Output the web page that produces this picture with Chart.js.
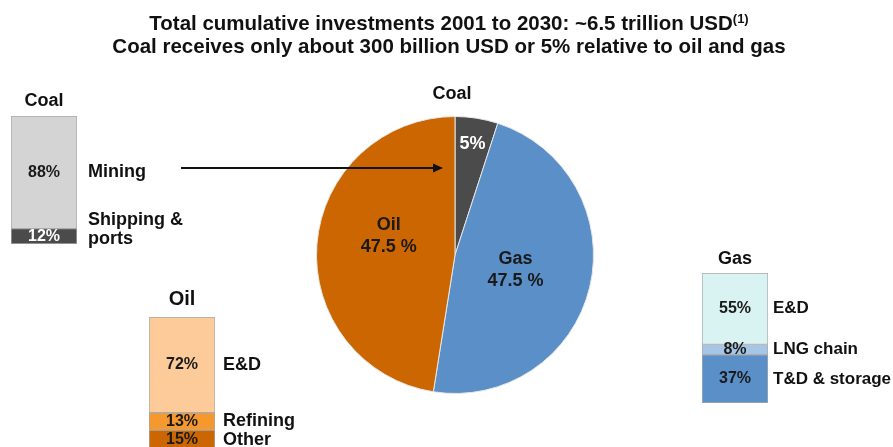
<!DOCTYPE html>
<html lang="en">
<head>
<meta charset="UTF-8">
<title>Cumulative energy investments 2001-2030</title>
<script src="https://cdn.jsdelivr.net/npm/chart.js"></script>
<style>
    body { margin: 0; background: #fff; font-family: 'Liberation Sans', Arial, sans-serif; }
    #page { position: relative; width: 893px; height: 447px; overflow: hidden; }
    #page canvas { position: absolute; }
    .title { position: absolute; left: 0; width: 898px; text-align: center; font-weight: bold; font-size: 20.5px; line-height: 20px; color: #111; white-space: nowrap; }
    .title sup { font-size: 13px; line-height: 0; vertical-align: 7px; }
</style>
</head>
<body>
<div id="page">
    <canvas id="pieChart" style="left:0;top:0;width:893px;height:447px"></canvas>
    <canvas id="coalBar" style="left:11px;top:86px;width:190px;height:172px"></canvas>
    <canvas id="oilBar" style="left:149px;top:284px;width:170px;height:166px"></canvas>
    <canvas id="gasBar" style="left:702px;top:243px;width:191px;height:160px"></canvas>
    <div class="title" style="top:13px">Total cumulative investments 2001 to 2030: ~6.5 trillion USD<sup>(1)</sup></div>
    <div class="title" style="top:36px">Coal receives only about 300 billion USD or 5% relative to oil and gas</div>
</div>

<script>
    // Share of total investment by fuel (%)
    const fuels = ['Coal', 'Gas', 'Oil'];
    const fuelShares = [5, 47.5, 47.5];
    const fuelColors = ['#4b4b4b', '#5a8fc8', '#cc6600'];

    // Breakdown inside each fuel (%), listed bottom to top
    const coalParts = ['Shipping &\nports', 'Mining'];
    const coalShares = [12, 88];
    const coalColors = ['#4b4b4b', '#d4d4d4'];

    const oilParts = ['Other', 'Refining', 'E&D'];
    const oilShares = [15, 13, 72];
    const oilColors = ['#cc6600', '#f5982e', '#fccb99'];

    const gasParts = ['T&D & storage', 'LNG chain', 'E&D'];
    const gasShares = [37, 8, 55];
    const gasColors = ['#5a8fc8', '#a6c6e8', '#d9f3f2'];

    const FONT = "'Liberation Sans', Arial, sans-serif";

    // --- pie ---------------------------------------------------------------
    const pieLabelPlugin = {
        id: 'pieLabels',
        afterDatasetsDraw(chart) {
            const ctx = chart.ctx;
            const arcs = chart.getDatasetMeta(0).data;
            const radial = [0.81, 0.45, 0.48];
            const shiftY = [0, 0, -14];
            ctx.save();
            ctx.textAlign = 'center';
            ctx.textBaseline = 'middle';
            ctx.font = 'bold 18px ' + FONT;
            arcs.forEach((arc, i) => {
                const mid = (arc.startAngle + arc.endAngle) / 2;
                const r = arc.outerRadius * radial[i];
                const x = arc.x + Math.cos(mid) * r;
                const y = arc.y + Math.sin(mid) * r + shiftY[i];
                if (i === 0) {
                    ctx.fillStyle = '#fff';
                    ctx.fillText(fuelShares[i] + '%', x, y);
                    ctx.fillStyle = '#111';
                    ctx.fillText(fuels[i], arc.x - 3, arc.y - arc.outerRadius - 22);
                } else {
                    ctx.fillStyle = '#1a1a1a';
                    ctx.fillText(fuels[i], x, y - 11);
                    ctx.fillText(fuelShares[i] + ' %', x, y + 11);
                }
            });

            // pointer from the coal breakdown to the coal slice
            const y = 168, x0 = 181, x1 = 443;
            ctx.strokeStyle = '#111';
            ctx.fillStyle = '#111';
            ctx.lineWidth = 2;
            ctx.beginPath();
            ctx.moveTo(x0, y);
            ctx.lineTo(x1 - 8, y);
            ctx.stroke();
            ctx.beginPath();
            ctx.moveTo(x1, y);
            ctx.lineTo(x1 - 10, y - 4.5);
            ctx.lineTo(x1 - 10, y + 4.5);
            ctx.closePath();
            ctx.fill();
            ctx.restore();
        }
    };

    new Chart(document.getElementById('pieChart'), {
        type: 'pie',
        data: {
            labels: fuels,
            datasets: [{
                data: fuelShares,
                backgroundColor: fuelColors,
                borderColor: '#e6e6e6',
                borderWidth: 1
            }]
        },
        options: {
            responsive: false,
            animation: false,
            layout: { padding: { left: 316, right: 299, top: 116, bottom: 53 } },
            plugins: { legend: { display: false }, tooltip: { enabled: false } }
        },
        plugins: [pieLabelPlugin]
    });

    // --- stacked breakdown bars ---------------------------------------------
    const barLabelPlugin = {
        id: 'barLabels',
        afterDatasetsDraw(chart, args, opts) {
            const ctx = chart.ctx;
            const area = chart.chartArea;
            ctx.save();
            ctx.textBaseline = 'middle';
            chart.data.datasets.forEach((ds, i) => {
                const bar = chart.getDatasetMeta(i).data[0];
                const cy = (bar.y + bar.base) / 2;
                ctx.textAlign = 'center';
                ctx.font = 'bold 16px ' + FONT;
                ctx.fillStyle = ds.textColor;
                ctx.fillText(ds.data[0] + '%', bar.x, cy);

                ctx.textAlign = 'left';
                ctx.font = 'bold ' + opts.labelSize + 'px ' + FONT;
                ctx.fillStyle = '#111';
                const lines = ds.label.split('\n');
                const lift = lines.length > 1 ? 3 : 0;
                lines.forEach((line, k) => {
                    ctx.fillText(line, area.right + opts.labelGap, cy + lift - (lines.length - 1 - k) * 19);
                });
            });
            ctx.textAlign = 'center';
            ctx.font = 'bold ' + opts.headerSize + 'px ' + FONT;
            ctx.fillStyle = '#111';
            ctx.fillText(opts.header, (area.left + area.right) / 2, area.top - opts.headerGap);
            ctx.restore();
        }
    };

    function breakdownBar(id, header, parts, shares, colors, opts) {
        new Chart(document.getElementById(id), {
            type: 'bar',
            data: {
                labels: [header],
                datasets: parts.map((p, i) => ({
                    label: p,
                    data: [shares[i]],
                    backgroundColor: colors[i],
                    borderColor: '#aaaaaa',
                    borderWidth: 1,
                    borderSkipped: false,
                    textColor: colors[i] === '#4b4b4b' ? '#fff' : '#1a1a1a'
                }))
            },
            options: {
                responsive: false,
                animation: false,
                barPercentage: 1,
                categoryPercentage: 1,
                layout: { padding: { left: 0, right: opts.right, top: opts.top, bottom: opts.bottom || 0 } },
                scales: {
                    x: { stacked: true, display: false },
                    y: { stacked: true, display: false, min: 0, max: 100 }
                },
                plugins: {
                    legend: { display: false },
                    tooltip: { enabled: false },
                    barLabels: {
                        header: header,
                        headerSize: opts.headerSize,
                        headerGap: opts.headerGap,
                        labelSize: opts.labelSize,
                        labelGap: opts.labelGap
                    }
                }
            },
            plugins: [barLabelPlugin]
        });
    }

    breakdownBar('coalBar', 'Coal', coalParts, coalShares, coalColors,
        { right: 124, top: 30, bottom: 14, headerSize: 18, headerGap: 15, labelSize: 18, labelGap: 11 });
    breakdownBar('oilBar', 'Oil', oilParts, oilShares, oilColors,
        { right: 104, top: 33, headerSize: 20, headerGap: 18, labelSize: 18, labelGap: 8 });
    breakdownBar('gasBar', 'Gas', gasParts, gasShares, gasColors,
        { right: 125, top: 30, headerSize: 18, headerGap: 14, labelSize: 17, labelGap: 5 });
</script>
</body>
</html>
